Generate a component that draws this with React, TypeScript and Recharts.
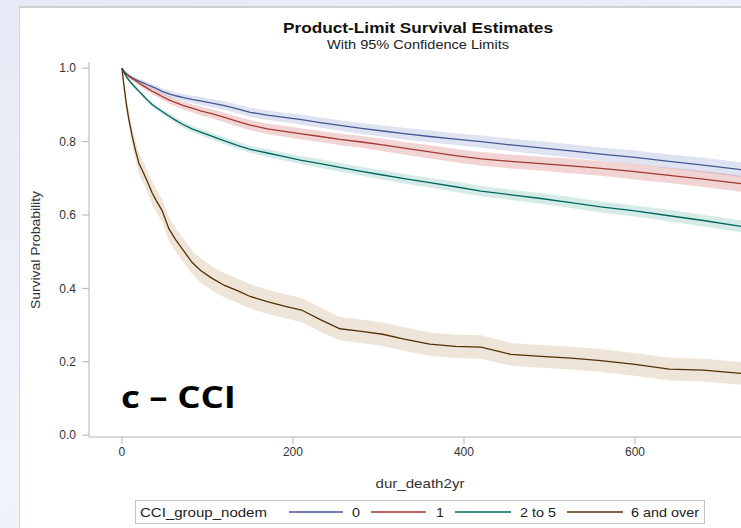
import React from 'react';
import { ComposedChart, Line, Area, XAxis, YAxis } from 'recharts';

// days since index (shared grid for all four groups)
const times = [0, 2, 5, 8, 12, 16, 20, 25, 30, 35, 40, 47, 55, 63, 72, 82, 92, 105, 120, 135, 150, 170, 190, 210, 232, 255, 280, 305, 330, 360, 390, 420, 455, 490, 525, 560, 600, 640, 680, 730];

// survival estimates
const surv0 = [1.0, 0.993, 0.986, 0.98, 0.974, 0.969, 0.965, 0.96, 0.955, 0.95, 0.945, 0.937, 0.93, 0.925, 0.92, 0.915, 0.911, 0.905, 0.898, 0.889, 0.88, 0.872, 0.866, 0.86, 0.852, 0.844, 0.836, 0.829, 0.822, 0.814, 0.807, 0.8, 0.791, 0.783, 0.775, 0.766, 0.757, 0.746, 0.736, 0.722];
const surv1 = [1.0, 0.992, 0.984, 0.978, 0.972, 0.966, 0.959, 0.952, 0.945, 0.938, 0.932, 0.923, 0.914, 0.906, 0.898, 0.891, 0.884, 0.876, 0.866, 0.855, 0.845, 0.835, 0.828, 0.821, 0.814, 0.806, 0.799, 0.791, 0.782, 0.772, 0.762, 0.753, 0.746, 0.74, 0.734, 0.727, 0.718, 0.708, 0.698, 0.684];
const surv2 = [1.0, 0.99, 0.978, 0.968, 0.957, 0.947, 0.937, 0.925, 0.913, 0.902, 0.893, 0.882, 0.87, 0.858, 0.846, 0.835, 0.826, 0.815, 0.802, 0.79, 0.779, 0.769, 0.759, 0.749, 0.74, 0.73, 0.719, 0.709, 0.699, 0.688, 0.677, 0.665, 0.655, 0.645, 0.634, 0.622, 0.611, 0.598, 0.585, 0.567];
const surv6 = [1.0, 0.96, 0.905, 0.862, 0.815, 0.775, 0.74, 0.716, 0.69, 0.662, 0.64, 0.612, 0.562, 0.532, 0.503, 0.471, 0.449, 0.428, 0.408, 0.394, 0.378, 0.364, 0.352, 0.341, 0.315, 0.29, 0.283, 0.275, 0.262, 0.248, 0.242, 0.24, 0.22, 0.215, 0.21, 0.203, 0.193, 0.18, 0.177, 0.167];

// half width of the 95% confidence band
const ci0 = [0, 0.003, 0.004, 0.005, 0.005, 0.006, 0.006, 0.007, 0.007, 0.007, 0.008, 0.008, 0.009, 0.009, 0.01, 0.01, 0.011, 0.011, 0.012, 0.012, 0.013, 0.013, 0.013, 0.014, 0.014, 0.014, 0.015, 0.015, 0.016, 0.016, 0.016, 0.017, 0.017, 0.018, 0.018, 0.018, 0.019, 0.019, 0.02, 0.02];
const ci1 = [0, 0.003, 0.004, 0.005, 0.006, 0.006, 0.007, 0.007, 0.008, 0.008, 0.009, 0.009, 0.01, 0.01, 0.011, 0.011, 0.012, 0.012, 0.013, 0.013, 0.014, 0.014, 0.015, 0.015, 0.015, 0.016, 0.016, 0.017, 0.017, 0.018, 0.018, 0.019, 0.019, 0.019, 0.02, 0.02, 0.021, 0.021, 0.022, 0.022];
const ci2 = [0, 0.002, 0.003, 0.004, 0.004, 0.005, 0.005, 0.006, 0.006, 0.006, 0.007, 0.007, 0.008, 0.008, 0.008, 0.009, 0.009, 0.009, 0.01, 0.01, 0.01, 0.011, 0.011, 0.011, 0.012, 0.012, 0.012, 0.013, 0.013, 0.013, 0.014, 0.014, 0.014, 0.014, 0.015, 0.015, 0.015, 0.016, 0.016, 0.016];
const ci6 = [0, 0.012, 0.018, 0.022, 0.025, 0.027, 0.028, 0.029, 0.03, 0.03, 0.031, 0.031, 0.032, 0.032, 0.032, 0.032, 0.033, 0.033, 0.033, 0.033, 0.033, 0.033, 0.033, 0.033, 0.033, 0.032, 0.032, 0.032, 0.032, 0.032, 0.032, 0.032, 0.031, 0.031, 0.031, 0.031, 0.031, 0.031, 0.031, 0.031];

const xTicks = [0, 200, 400, 600];
const yTicks = [0, 0.2, 0.4, 0.6, 0.8, 1.0];

const groups = [
  { key: 'g0', label: '0', color: '#445694', band: '#6f7ec0', bandOp: 0.22, values: surv0, half: ci0 },
  { key: 'g1', label: '1', color: '#a23a2e', band: '#cc5555', bandOp: 0.25, values: surv1, half: ci1 },
  { key: 'g2', label: '2 to 5', color: '#01665e', band: '#2f9a85', bandOp: 0.2, values: surv2, half: ci2 },
  { key: 'g6', label: '6 and over', color: '#543005', band: '#c8a47e', bandOp: 0.3, values: surv6, half: ci6 },
];

const rows = times.map((t, i) => {
  const row: Record<string, any> = { t };
  groups.forEach((g) => {
    row[g.key] = g.values[i];
    row[g.key + 'ci'] = [g.values[i] - g.half[i], g.values[i] + g.half[i]];
  });
  return row;
});

const FONT = '"Liberation Sans", Arial, sans-serif';
const AXIS = '#b4b4b4';
const X_DOMAIN: [number, number] = [-38.5, 734.5];

// legend slots (line start, line end, label x)
const legendSlots = [
  [289, 343, 352],
  [371, 426, 436],
  [455, 511, 520],
  [567, 623, 631],
];
const legendWidths = [8, 8, 36, 68];

export default function App() {
  return (
    <div
      style={{
        position: 'absolute',
        left: 0,
        top: 0,
        width: 741,
        height: 528,
        overflow: 'hidden',
        fontFamily: FONT,
        background: 'linear-gradient(160deg, #e6eaf6 0%, #f1f3fa 60%, #e9ecf6 100%)',
      }}
    >
      <div
        style={{
          position: 'absolute',
          left: 19,
          top: 6,
          width: 730,
          height: 530,
          background: '#fff',
          borderTop: '2px solid #d0d0d0',
          borderLeft: '1px solid #dadada',
        }}
      />
      <div style={{ position: 'absolute', left: 0, top: 0 }}>
        <ComposedChart width={752} height={528} data={rows} margin={{ top: 62, right: 2, bottom: 0, left: 0 }}>
          <XAxis
            xAxisId="top"
            orientation="top"
            type="number"
            dataKey="t"
            domain={X_DOMAIN}
            allowDataOverflow
            height={0}
            tick={false}
            tickLine={false}
            axisLine={{ stroke: AXIS }}
          />
          <XAxis
            type="number"
            dataKey="t"
            domain={X_DOMAIN}
            allowDataOverflow
            ticks={xTicks}
            height={91}
            tickSize={7}
            tickMargin={3}
            tick={{ fill: '#333', fontSize: 12, fontFamily: FONT }}
            tickLine={{ stroke: AXIS }}
            axisLine={{ stroke: AXIS }}
          />
          <YAxis
            type="number"
            domain={[-0.005, 1.017]}
            allowDataOverflow
            ticks={yTicks}
            tickFormatter={(v: number) => v.toFixed(1)}
            width={89}
            tickSize={7}
            tickMargin={6}
            tick={{ fill: '#333', fontSize: 12, fontFamily: FONT }}
            tickLine={{ stroke: AXIS }}
            axisLine={{ stroke: AXIS }}
          />
          {groups.map((g) => (
            <Area
              key={g.key + 'ci'}
              dataKey={g.key + 'ci'}
              type="linear"
              stroke="none"
              fill={g.band}
              fillOpacity={g.bandOp}
              isAnimationActive={false}
            />
          ))}
          {groups.map((g) => (
            <Line
              key={g.key}
              dataKey={g.key}
              type="linear"
              stroke={g.color}
              strokeWidth={1.3}
              dot={false}
              activeDot={false}
              isAnimationActive={false}
            />
          ))}
        </ComposedChart>
      </div>
      <svg
        width={741}
        height={528}
        style={{ position: 'absolute', left: 0, top: 0, pointerEvents: 'none' }}
        fontFamily={FONT}
      >
        <text x={418} y={33} textAnchor="middle" fontSize={14} fontWeight="bold" fill="#111" textLength={270} lengthAdjust="spacingAndGlyphs">
          Product-Limit Survival Estimates
        </text>
        <text x={418} y={49} textAnchor="middle" fontSize={12} fill="#222" textLength={182} lengthAdjust="spacingAndGlyphs">
          With 95% Confidence Limits
        </text>
        <text
          x={0}
          y={0}
          transform="translate(40,250) rotate(-90)"
          textAnchor="middle"
          fontSize={13}
          fill="#333"
          textLength={118}
          lengthAdjust="spacingAndGlyphs"
        >
          Survival Probability
        </text>
        <text x={420} y={488} textAnchor="middle" fontSize={13} fill="#333" textLength={89} lengthAdjust="spacingAndGlyphs">
          dur_death2yr
        </text>
        <text x={121} y={408} fontSize={30} fontWeight="bold" fill="#000" fontFamily="'Open Sans', Lato, sans-serif" textLength={115} lengthAdjust="spacingAndGlyphs">
          c – CCI
        </text>
        <rect x={135.5} y={500.5} width={569} height={23} fill="#fff" stroke="#c4c4c4" />
        <text x={140} y={517} fontSize={13} fill="#222" textLength={127} lengthAdjust="spacingAndGlyphs">
          CCI_group_nodem
        </text>
        {groups.map((g, i) => (
          <g key={g.key}>
            <line x1={legendSlots[i][0]} x2={legendSlots[i][1]} y1={512} y2={512} stroke={g.color} strokeWidth={1.3} />
            <text x={legendSlots[i][2]} y={517} fontSize={13} fill="#222" textLength={legendWidths[i]} lengthAdjust="spacingAndGlyphs">
              {g.label}
            </text>
          </g>
        ))}
      </svg>
    </div>
  );
}
